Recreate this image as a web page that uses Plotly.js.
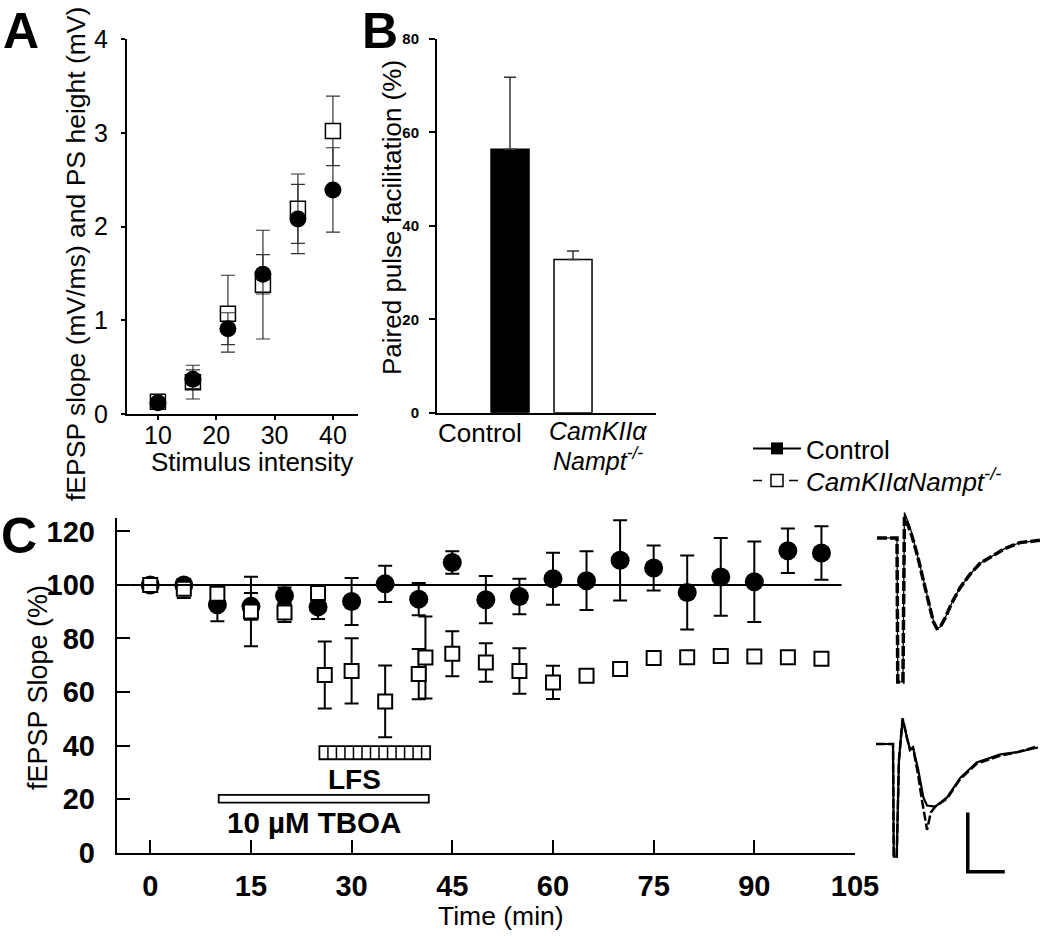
<!DOCTYPE html>
<html>
<head>
<meta charset="utf-8">
<script src="https://cdn.plot.ly/plotly-3.0.1.min.js"></script>
<style>html,body{margin:0;padding:0;background:#fff;}#chart{width:1050px;height:936px;}</style>
</head>
<body>
<div id="chart"></div>
<script>
// ---------- Panel A: input/output ----------
const stimIntensity = [10, 16, 22, 28, 34, 40];
const ctrlIO = [0.12, 0.37, 0.91, 1.49, 2.08, 2.39];
const ctrlIOErr = [0.03, 0.10, 0.17, 0.21, 0.37, 0.45];
const koIO = [0.13, 0.34, 1.07, 1.38, 2.19, 3.02];
const koIOErr = [0.04, 0.18, 0.41, 0.58, 0.37, 0.37];

// ---------- Panel B: paired pulse facilitation ----------
const groupsB = ['Control', 'CamKIIα Nampt-/-'];
const ppf = [56.4, 32.8];
const ppfErr = [15.4, 1.8];

// ---------- Panel C: time course ----------
const ctrlTime = [0, 5, 10, 15, 20, 25, 30, 35, 40, 45, 50, 55, 60, 65, 70, 75, 80, 85, 90, 95, 100];
const ctrlSlope = [100, 100, 92.6, 92.0, 96.0, 91.8, 93.8, 100.4, 94.7, 108.4, 94.5, 95.7, 102.3, 101.6, 109.2, 106.3, 97.2, 103.0, 101.2, 112.8, 111.9];
const ctrlSlopeErr = [1, 2, 6.2, 5, 3, 4.5, 8.8, 6.8, 6.0, 4.2, 8.8, 6.6, 9.7, 11, 15, 8.4, 13.8, 14.5, 15, 8.3, 10];
const koTime = [0, 5, 10, 15, 20, 25, 26, 30, 35, 40, 41, 45, 50, 55, 60, 65, 70, 75, 80, 85, 90, 95, 100];
const koSlope = [100, 98.6, 96.7, 90.1, 89.7, 97.0, 66.4, 67.9, 56.5, 66.7, 72.9, 74.3, 71.0, 67.9, 63.6, 66.1, 68.6, 72.7, 73.0, 73.5, 73.3, 73.0, 72.4];
const koSlopeErr = [1.5, 3.5, 2, 13, 3.5, 2, 12.5, 12.2, 13.4, 9.4, 15.3, 8.4, 7.2, 8.5, 6.2, 1.5, 1.5, 1.5, 1.5, 1.5, 1.5, 1.5, 1.5];
const tboaPeriod = [10.2, 41.5];
const lfsPeriod = [25.2, 41.7];

// ---------- Example traces (ms, mV) ----------
const topCtrlT = [0, 2.7, 2.8, 3.5, 3.7, 4.2, 4.7, 5.5, 6.2, 6.9, 7.6, 8.1, 8.5, 9.2, 10.1, 11.2, 12.6, 13.9, 15.7, 17.3, 19.3, 22.0];
const topCtrlV = [0, 0, -1.24, -1.24, 0.22, 0.14, 0.04, -0.15, -0.34, -0.53, -0.71, -0.78, -0.77, -0.69, -0.56, -0.43, -0.31, -0.22, -0.15, -0.09, -0.04, -0.02];
const topKoT = [0, 2.7, 2.8, 3.5, 3.7, 4.2, 4.7, 5.5, 6.2, 6.9, 7.6, 8.1, 8.5, 9.2, 10.1, 11.2, 12.6, 13.9, 15.7, 17.3, 19.3, 22.0];
const topKoV = [0, 0, -1.24, -1.24, 0.18, 0.11, 0.02, -0.16, -0.35, -0.54, -0.72, -0.78, -0.77, -0.69, -0.56, -0.43, -0.31, -0.22, -0.15, -0.09, -0.04, -0.02];
const botCtrlT = [0, 2.3, 2.4, 2.8, 3.1, 3.6, 4.2, 4.6, 5.0, 5.7, 6.4, 6.9, 8.0, 9.6, 11.4, 13.6, 16.8, 19.1, 21.9];
const botCtrlV = [0, 0, -0.97, -0.97, -0.14, 0.22, 0.05, -0.05, -0.03, -0.22, -0.46, -0.53, -0.54, -0.46, -0.29, -0.16, -0.09, -0.07, -0.03];
const botKoT = [0, 2.3, 2.4, 2.8, 3.1, 3.6, 4.2, 4.6, 5.0, 5.7, 6.2, 6.9, 7.4, 8.0, 9.6, 11.4, 13.6, 16.8, 19.1, 21.9];
const botKoV = [0, 0, -0.97, -0.97, -0.14, 0.22, 0.05, -0.05, -0.03, -0.27, -0.48, -0.74, -0.59, -0.54, -0.47, -0.30, -0.17, -0.10, -0.07, -0.02];
const scaleBarT = [12.4, 12.4, 17.4];
const scaleBarV = [-0.59, -1.10, -1.10];

// ---------- helpers ----------
const W = 1050, H = 936;
const FONT = 'Liberation Sans, Arial, Helvetica, sans-serif';
const fx = p => p / W;
const fy = p => 1 - p / H;

const traces = [
  // Panel A
  { x: stimIntensity, y: koIO, xaxis: 'x', yaxis: 'y', type: 'scatter', mode: 'markers', showlegend: false,
    marker: { symbol: 'square', size: 15, color: 'white', line: { color: 'black', width: 1.5 } },
    error_y: { type: 'data', array: koIOErr, visible: true, color: '#333', thickness: 1.2, width: 7 } },
  { x: stimIntensity, y: ctrlIO, xaxis: 'x', yaxis: 'y', type: 'scatter', mode: 'markers', showlegend: false,
    marker: { symbol: 'circle', size: 17, color: 'black' },
    error_y: { type: 'data', array: ctrlIOErr, visible: true, color: '#333', thickness: 1.2, width: 7 } },
  // Panel B
  { x: groupsB, y: ppf, xaxis: 'x2', yaxis: 'y2', type: 'bar', width: 0.603, showlegend: false,
    marker: { color: ['black', 'white'], line: { color: 'black', width: 1.5 } },
    error_y: { type: 'data', array: ppfErr, arrayminus: [0, 0], symmetric: false, visible: true, color: '#333', thickness: 1.5, width: 6 } },
  // Panel C
  { x: ctrlTime, y: ctrlSlope, xaxis: 'x3', yaxis: 'y3', type: 'scatter', mode: 'markers', showlegend: false,
    marker: { symbol: 'circle', size: 19, color: 'black' },
    error_y: { type: 'data', array: ctrlSlopeErr, visible: true, color: 'black', thickness: 2, width: 7 } },
  { x: koTime, y: koSlope, xaxis: 'x3', yaxis: 'y3', type: 'scatter', mode: 'markers', showlegend: false,
    marker: { symbol: 'square', size: 14, color: 'white', line: { color: 'black', width: 2 } },
    error_y: { type: 'data', array: koSlopeErr, visible: true, color: 'black', thickness: 2, width: 7 } },
  // Legend entries
  { x: [null], y: [null], xaxis: 'x3', yaxis: 'y3', type: 'scatter', mode: 'lines+markers', name: 'Control', legend: 'legend',
    line: { color: 'black', width: 2 }, marker: { symbol: 'square', size: 12, color: 'black' } },
  { x: [null], y: [null], xaxis: 'x3', yaxis: 'y3', type: 'scatter', mode: 'lines+markers', legend: 'legend2',
    name: '<i>CamKIIαNampt<sup>-/-</sup></i>',
    line: { color: 'black', width: 1.5, dash: 'dash' }, marker: { symbol: 'square', size: 12, color: 'white', line: { color: 'black', width: 1.5 } } },
  // Example traces
  { x: topKoT, y: topKoV, xaxis: 'x4', yaxis: 'y4', type: 'scatter', mode: 'lines', showlegend: false,
    line: { color: 'black', width: 3.5, dash: '10px,3px' } },
  { x: topCtrlT, y: topCtrlV, xaxis: 'x4', yaxis: 'y4', type: 'scatter', mode: 'lines', showlegend: false,
    line: { color: 'black', width: 1.3 } },
  { x: botKoT, y: botKoV, xaxis: 'x5', yaxis: 'y5', type: 'scatter', mode: 'lines', showlegend: false,
    line: { color: 'black', width: 2.5, dash: '9px,3px' } },
  { x: botCtrlT, y: botCtrlV, xaxis: 'x5', yaxis: 'y5', type: 'scatter', mode: 'lines', showlegend: false,
    line: { color: 'black', width: 2.2 } },
  { x: scaleBarT, y: scaleBarV, xaxis: 'x5', yaxis: 'y5', type: 'scatter', mode: 'lines', showlegend: false,
    line: { color: 'black', width: 3.5 } }
];

const axisBase = { showgrid: false, zeroline: false, showline: true, linecolor: 'black', linewidth: 2,
  tickcolor: 'black', tickwidth: 2 };
const hidden = { visible: false, showgrid: false, zeroline: false };

const shapes = [
  { type: 'line', xref: 'x3', yref: 'y3', x0: -3, x1: 103, y0: 100, y1: 100, line: { color: 'black', width: 2 } },
  { type: 'rect', xref: 'x3', yref: 'y3', x0: tboaPeriod[0], x1: tboaPeriod[1], y0: 18.7, y1: 21.6,
    fillcolor: 'white', line: { color: 'black', width: 1.8 } },
  { type: 'rect', xref: 'x3', yref: 'y3', x0: lfsPeriod[0], x1: lfsPeriod[1], y0: 34.9, y1: 39.8,
    fillcolor: 'white', line: { color: 'black', width: 1.8 } }
];
const nCells = 13;
for (let i = 1; i < nCells; i++) {
  const xv = lfsPeriod[0] + i * (lfsPeriod[1] - lfsPeriod[0]) / nCells;
  shapes.push({ type: 'line', xref: 'x3', yref: 'y3', x0: xv, x1: xv, y0: 34.9, y1: 39.8, line: { color: 'black', width: 1.5 } });
}

const txt = (text, px, py, size, opts) => Object.assign({
  text: text, xref: 'paper', yref: 'paper', x: fx(px), y: fy(py), xanchor: 'center', yanchor: 'middle',
  showarrow: false, font: { family: FONT, size: size, color: 'black' }
}, opts || {});

const annotations = [
  txt('<b>A</b>', 21, 1, 50, { yanchor: 'top' }),
  txt('<b>B</b>', 380, 1, 50, { yanchor: 'top' }),
  txt('<b>C</b>', 19, 506, 50, { yanchor: 'top' }),
  txt('fEPSP slope (mV/ms) and PS height (mV)', 76, 254, 26.5, { textangle: -90 }),
  txt('Stimulus intensity', 252, 462, 26),
  txt('Paired pulse facilitation (%)', 392, 218, 26, { textangle: -90 }),
  txt(groupsB[0], 480, 433, 26),
  txt('<i>CamKIIα</i>', 598, 431, 25),
  txt('<i>Nampt<sup>-/-</sup></i>', 598, 459, 25),
  txt('fEPSP Slope (%)', 38, 688, 27, { textangle: -90 }),
  txt('Time (min)', 501, 916, 26.5),
  { text: '<b>LFS</b>', xref: 'x3', yref: 'y3', x: 30.5, y: 27.2, showarrow: false, xanchor: 'center', yanchor: 'middle',
    font: { family: FONT, size: 28, color: 'black' } },
  { text: '<b>10 µM TBOA</b>', xref: 'x3', yref: 'y3', x: 24.4, y: 11.2, showarrow: false, xanchor: 'center', yanchor: 'middle',
    font: { family: FONT, size: 29.5, color: 'black' } }
];

const legendBase = { xanchor: 'left', yanchor: 'top', bgcolor: 'rgba(0,0,0,0)',
  font: { family: FONT, size: 26, color: 'black' }, itemwidth: 48 };

const layout = {
  width: W, height: H, margin: { l: 0, r: 0, t: 0, b: 0 },
  paper_bgcolor: 'white', plot_bgcolor: 'rgba(0,0,0,0)',
  font: { family: FONT, color: 'black' },
  showlegend: true,
  legend: Object.assign({}, legendBase, { x: fx(748), y: fy(425) }),
  legend2: Object.assign({}, legendBase, { x: fx(748), y: fy(457) }),
  xaxis: Object.assign({}, axisBase, { domain: [fx(127), fx(358)], range: [4.7, 44.3], anchor: 'y',
    tickvals: [10, 20, 30, 40], ticks: 'outside', ticklen: 4, ticklabelstandoff: -6,
    tickfont: { family: FONT, size: 25 } }),
  yaxis: Object.assign({}, axisBase, { domain: [fy(414), fy(39)], range: [0, 4], anchor: 'x',
    tickvals: [0, 1, 2, 3, 4], ticks: 'outside', ticklen: 4, ticklabelstandoff: 8,
    tickfont: { family: FONT, size: 25 } }),
  xaxis2: Object.assign({}, axisBase, { domain: [fx(437), fx(656)], range: [-1.159, 2.317], anchor: 'y2',
    type: 'category', ticks: '', showticklabels: false }),
  yaxis2: Object.assign({}, axisBase, { domain: [fy(412.7), fy(39)], range: [0, 80], anchor: 'x2',
    tickvals: [0, 20, 40, 60, 80], ticks: 'outside', ticklen: 6, ticklabelstandoff: 7,
    tickfont: { family: FONT, size: 15, weight: 'bold' } }),
  xaxis3: Object.assign({}, axisBase, { domain: [fx(116.7), fx(855)], range: [-5, 105], anchor: 'y3',
    tickvals: [0, 15, 30, 45, 60, 75, 90, 105], ticks: 'inside', ticklen: 13, ticklabelstandoff: 6,
    tickfont: { family: FONT, size: 29, weight: 'bold' } }),
  yaxis3: Object.assign({}, axisBase, { domain: [fy(852.7), fy(518)], range: [0, 125], anchor: 'x3',
    tickvals: [0, 20, 40, 60, 80, 100, 120], ticks: 'inside', ticklen: 13, ticklabelstandoff: 14,
    tickfont: { family: FONT, size: 29, weight: 'bold' } }),
  xaxis4: Object.assign({}, hidden, { domain: [fx(870), fx(1048)], range: [-0.95, 23.1], anchor: 'y4' }),
  yaxis4: Object.assign({}, hidden, { domain: [fy(690), fy(505)], range: [-1.31, 0.284], anchor: 'x4' }),
  xaxis5: Object.assign({}, hidden, { domain: [fx(870), fx(1048)], range: [-0.81, 23.24], anchor: 'y5' }),
  yaxis5: Object.assign({}, hidden, { domain: [fy(880), fy(705)], range: [-1.172, 0.336], anchor: 'x5' }),
  shapes: shapes,
  annotations: annotations
};

Plotly.newPlot('chart', traces, layout, { displayModeBar: false, staticPlot: true });
</script>
</body>
</html>
